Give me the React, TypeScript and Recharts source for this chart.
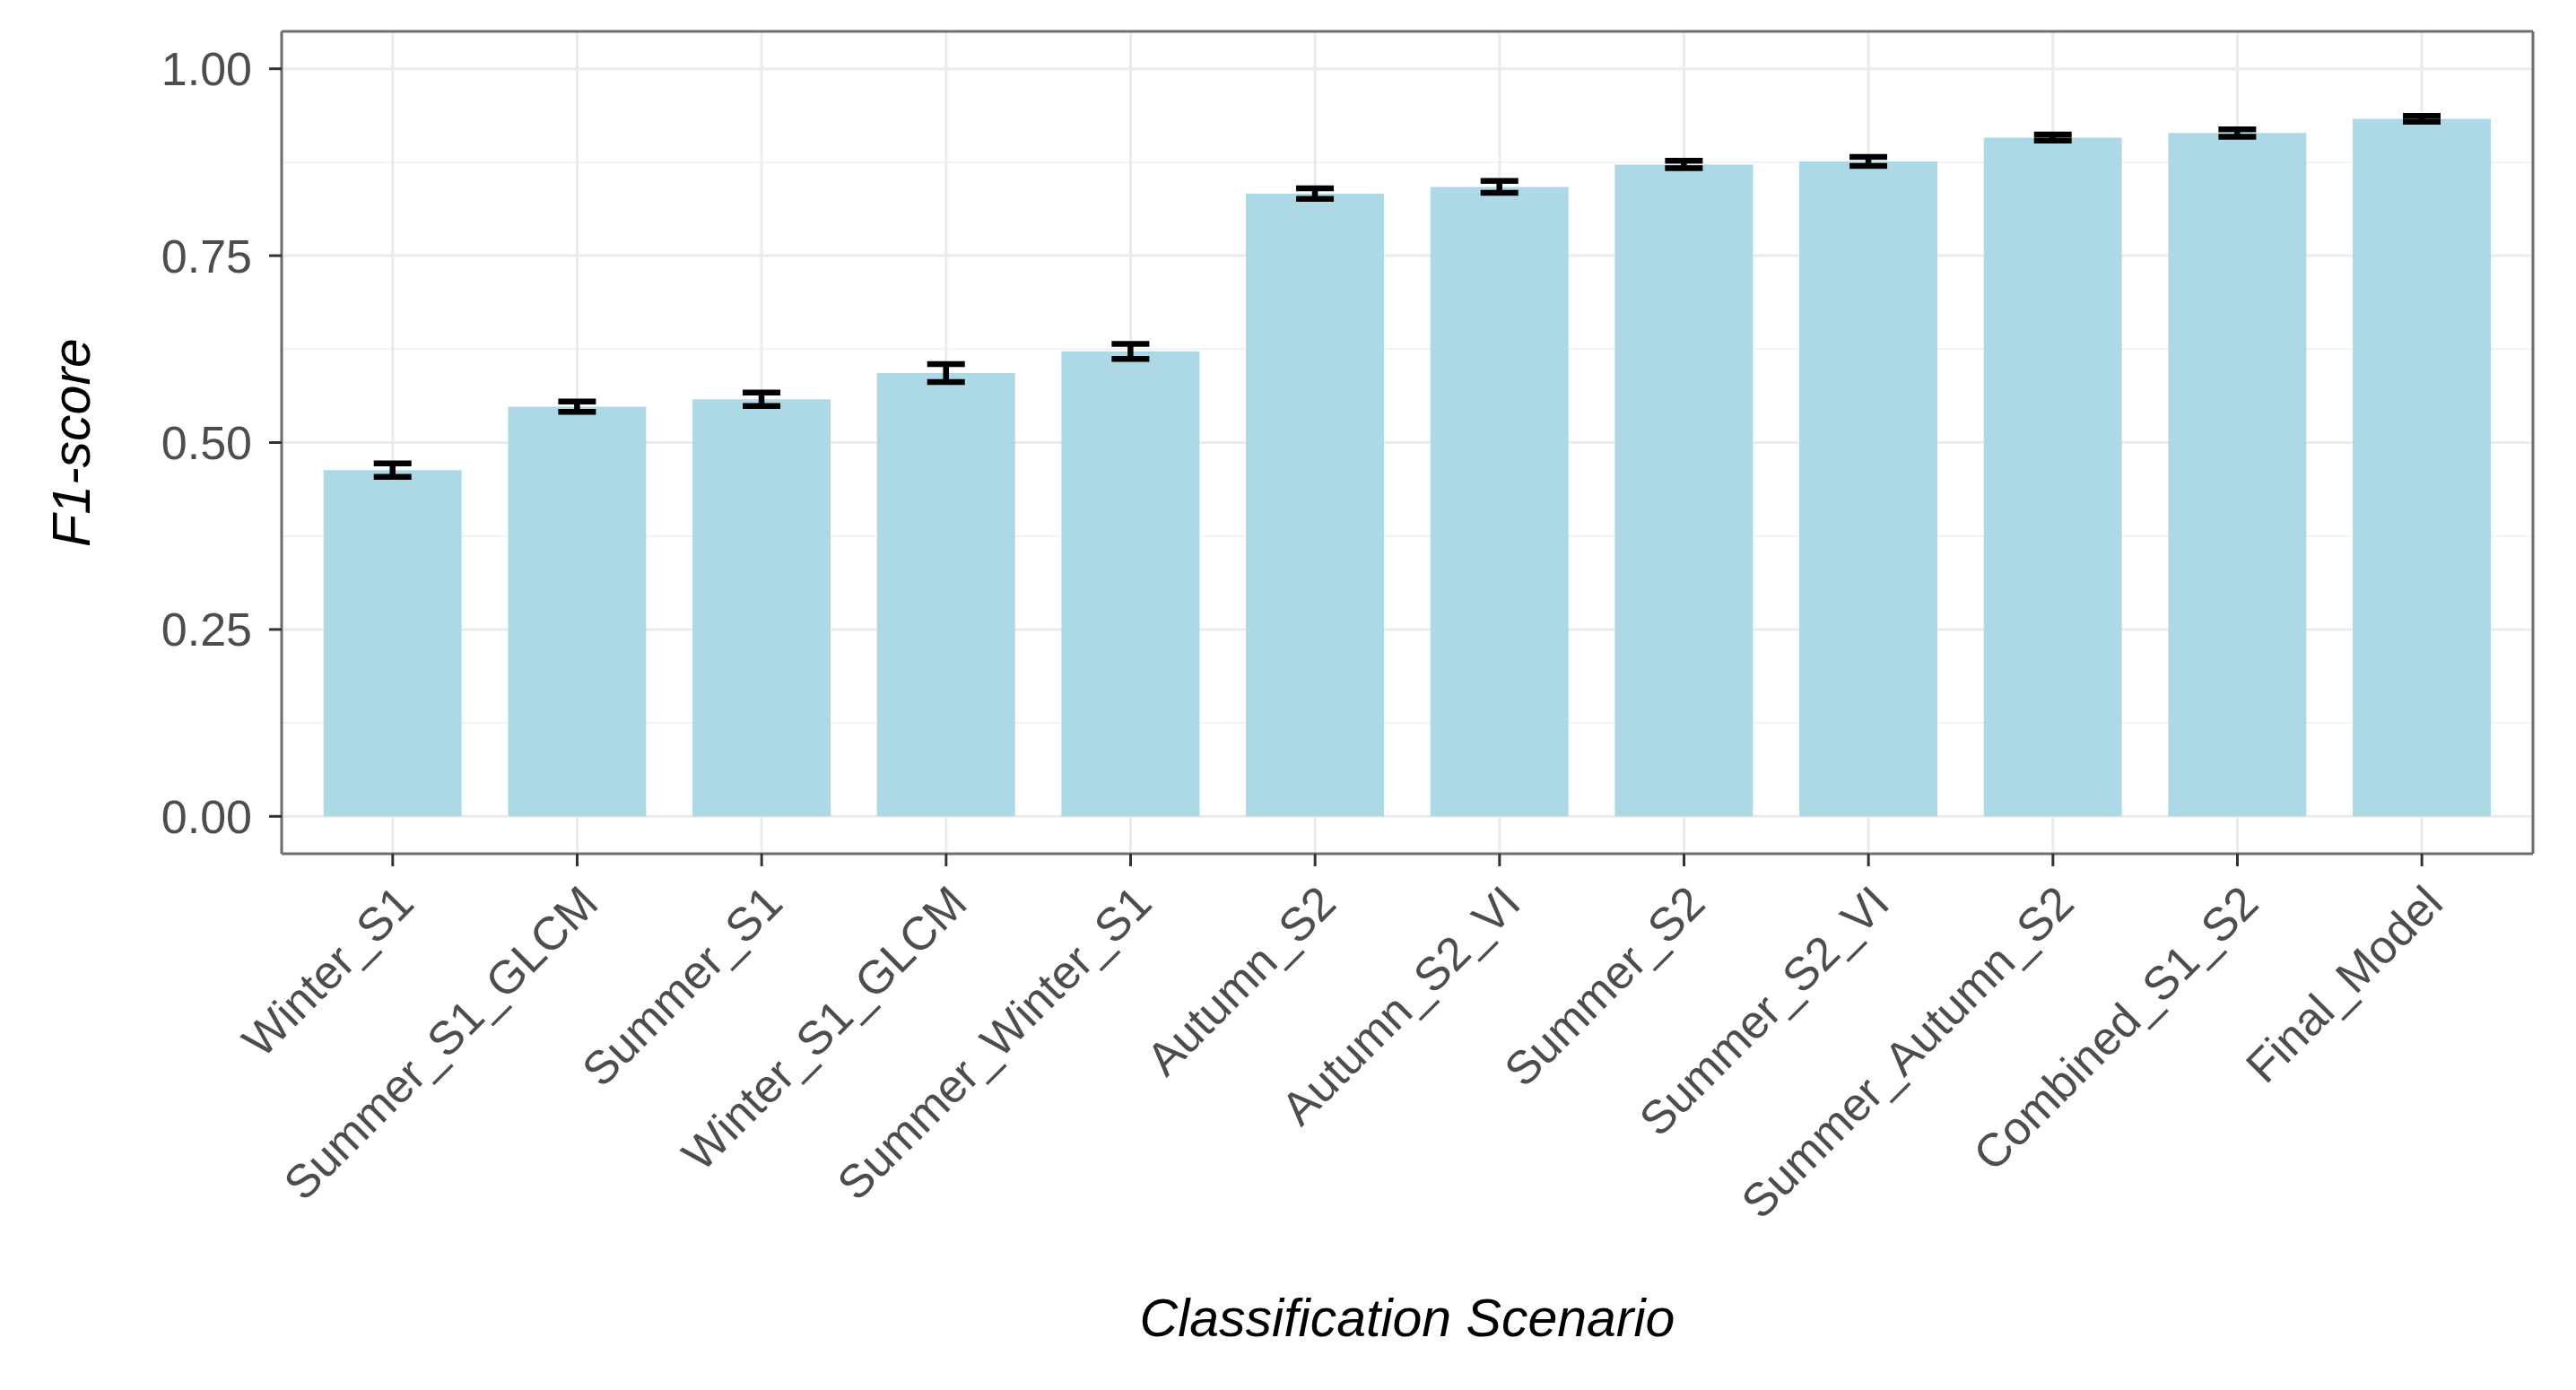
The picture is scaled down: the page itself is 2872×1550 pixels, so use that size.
import React from 'react';
import { BarChart, Bar, XAxis, YAxis, CartesianGrid, ErrorBar, Label } from 'recharts';

const scenarios = [
  'Winter_S1', 'Summer_S1_GLCM', 'Summer_S1', 'Winter_S1_GLCM', 'Summer_Winter_S1',
  'Autumn_S2', 'Autumn_S2_VI', 'Summer_S2', 'Summer_S2_VI', 'Summer_Autumn_S2',
  'Combined_S1_S2', 'Final_Model',
];
const f1Scores = [0.463, 0.548, 0.558, 0.593, 0.622, 0.833, 0.842, 0.872, 0.876, 0.908, 0.914, 0.933];
const f1Errors = [0.009, 0.007, 0.009, 0.012, 0.010, 0.007, 0.008, 0.005, 0.006, 0.004, 0.005, 0.004];
const yTicks = [0, 0.25, 0.5, 0.75, 1];
const yMinorGrid = [0.125, 0.375, 0.625, 0.875];

const data = scenarios.map((s, i) => ({ scenario: s, f1: f1Scores[i], err: f1Errors[i] }));

const FONT = '"Liberation Sans", Arial, Helvetica, sans-serif';
const BORDER = '#6E6E6E';

const XTick = (props: any) => {
  const { x, y, payload } = props;
  return (
    <g transform={`translate(${x},${y})`}>
      <text
        transform="rotate(-45)"
        textAnchor="end"
        dy="0.71em"
        fontSize={52}
        fill="#4D4D4D"
        fontFamily={FONT}
      >
        {payload.value}
      </text>
    </g>
  );
};

const YTitle = (props: any) => {
  const vb = props.viewBox || {};
  const cy = (vb.y ?? 0) + (vb.height ?? 0) / 2;
  const cx = 80;
  return (
    <text
      x={cx}
      y={cy}
      transform={`rotate(-90, ${cx}, ${cy})`}
      textAnchor="middle"
      dominantBaseline="central"
      fontSize={59}
      fontStyle="italic"
      fill="#000"
      fontFamily={FONT}
    >
      F1-score
    </text>
  );
};

export default function App() {
  return (
    <div style={{ position: 'absolute', left: 0, top: 0, background: '#fff' }}>
      <BarChart
        width={2872}
        height={1550}
        data={data}
        margin={{ top: 34, right: 47, bottom: 0, left: 0 }}
        barCategoryGap="12.5%"
      >
        <CartesianGrid
          horizontalValues={yMinorGrid}
          vertical={false}
          stroke="#EFEFEF"
          strokeWidth={1.5}
        />
        <CartesianGrid
          horizontalValues={yTicks}
          stroke="#EBEBEB"
          strokeWidth={3}
        />
        <XAxis
          dataKey="scenario"
          type="category"
          interval={0}
          height={598}
          padding={{ left: 21, right: 21 }}
          tickSize={14}
          tickMargin={18}
          tickLine={{ stroke: '#333', strokeWidth: 3 }}
          axisLine={{ stroke: BORDER, strokeWidth: 3 }}
          tick={<XTick />}
        >
          <Label
            value="Classification Scenario"
            position="insideBottom"
            offset={60}
            fontSize={59}
            fontStyle="italic"
            fill="#000"
            fontFamily={FONT}
          />
        </XAxis>
        <XAxis
          xAxisId="top"
          dataKey="scenario"
          type="category"
          orientation="top"
          height={1}
          interval={0}
          tick={false}
          tickLine={false}
          axisLine={{ stroke: BORDER, strokeWidth: 3 }}
        />
        <YAxis
          type="number"
          domain={[-0.05, 1.05]}
          allowDataOverflow
          ticks={yTicks}
          tickFormatter={(v: number) => v.toFixed(2)}
          width={314}
          tickSize={14}
          tickMargin={19}
          tickLine={{ stroke: '#333', strokeWidth: 3 }}
          axisLine={{ stroke: BORDER, strokeWidth: 3 }}
          tick={{ fontSize: 52, fill: '#4D4D4D', fontFamily: FONT }}
        >
          <Label content={<YTitle />} />
        </YAxis>
        <YAxis
          yAxisId="right"
          type="number"
          orientation="right"
          domain={[-0.05, 1.05]}
          width={1}
          tick={false}
          tickLine={false}
          axisLine={{ stroke: BORDER, strokeWidth: 3 }}
        />
        <Bar dataKey="f1" fill="#ADD8E6" isAnimationActive={false}>
          <ErrorBar
            dataKey="err"
            direction="y"
            width={21}
            strokeWidth={6.5}
            stroke="#000"
            isAnimationActive={false}
          />
        </Bar>
      </BarChart>
    </div>
  );
}
